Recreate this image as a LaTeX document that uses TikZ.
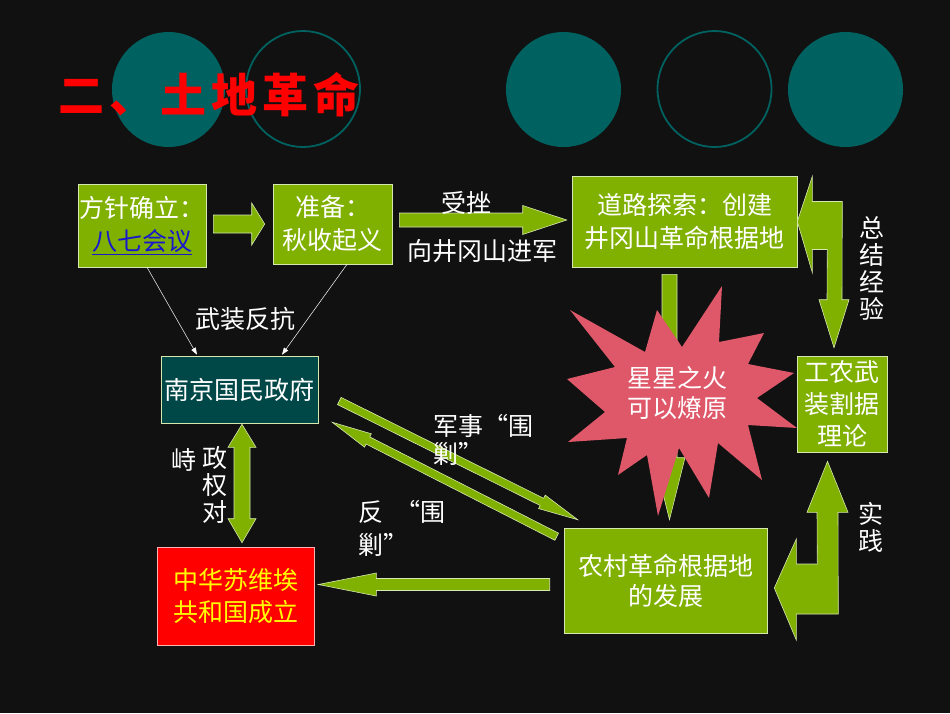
\documentclass[tikz,border=0pt]{standalone}
\usepackage{fontspec}
\setmainfont{Noto Sans CJK SC}
\usetikzlibrary{arrows.meta,calc}
\definecolor{bg}{RGB}{17,17,17}
\definecolor{tealc}{RGB}{0,98,96}
\definecolor{grn}{RGB}{128,176,0}
\definecolor{bord}{RGB}{214,232,176}
\definecolor{njc}{RGB}{0,72,72}
\definecolor{starc}{RGB}{222,88,106}
\definecolor{linkblue}{RGB}{24,24,204}
\definecolor{yel}{RGB}{255,255,0}
\definecolor{redc}{RGB}{255,0,0}
\newcommand\blkarr[5]{%
  \coordinate (hb) at ($(#2)!#5!(#1)$);
  \draw[barrow] ($(#1)!#3!90:(#2)$) -- ($(hb)!#3!90:(#2)$) -- ($(hb)!#4!90:(#2)$) -- (#2)
    -- ($(hb)!#4!-90:(#2)$) -- ($(hb)!#3!-90:(#2)$) -- ($(#1)!#3!-90:(#2)$) -- cycle;}
\begin{document}
\begin{tikzpicture}[x=1pt,y=-1pt,
  txt/.style={text=white,font=\fontsize{25}{33}\selectfont,inner sep=0pt,align=center},
  vtxt/.style={text=white,font=\fontsize{25}{27}\selectfont,inner sep=0pt,align=center},
  gbox/.style={draw=bord,line width=0.6pt,fill=grn,inner sep=0pt,align=center,text=white,font=\fontsize{25}{33}\selectfont},
  barrow/.style={draw=bord,line width=0.6pt,fill=grn},
  thinarr/.style={draw=white,line width=0.5pt,-{Triangle[length=7pt,width=5pt]}}
]
\fill[bg] (0,0) rectangle (950,713);
\useasboundingbox (0,0) rectangle (950,713);
% circles
\fill[tealc] (168.5,89.5) ellipse [x radius=56.5, y radius=57.5];
\draw[tealc,line width=1.8pt] (303,89) ellipse [x radius=57, y radius=58];
\fill[tealc] (563.5,89.5) ellipse [x radius=57.5, y radius=57.5];
\draw[tealc,line width=1.8pt] (714.5,89) ellipse [x radius=57, y radius=58];
\fill[tealc] (845.5,89.5) ellipse [x radius=57.5, y radius=57.5];
% title
\node[anchor=west,inner sep=0pt,text=redc,font=\fontsize{46}{46}\selectfont\bfseries] (title) at (58,95)
  {二\hspace{5pt}、\hspace{5pt}土\hspace{5pt}地\hspace{5pt}革\hspace{5pt}命};
% boxes
\node[gbox,minimum width=128pt,minimum height=83pt] (a) at (142,225.5) {方针确立：\\\textcolor{linkblue}{\underline{八七会议}}};
\node[gbox,minimum width=119pt,minimum height=80pt] (b) at (332.5,224) {准备：\\秋收起义};
\node[gbox,minimum width=225pt,minimum height=91pt] (c) at (684.5,221.5) {道路探索：创建\\井冈山革命根据地};
\node[gbox,minimum width=90pt,minimum height=96pt,font=\fontsize{25}{32}\selectfont] (th) at (842,404) {工农武\\装割据\\理论};
\node[gbox,minimum width=203pt,minimum height=105pt,font=\fontsize{25}{30}\selectfont] (ru) at (665.5,580.5) {农村革命根据地\\的发展};
\node[draw=bord,line width=0.6pt,fill=njc,inner sep=0pt,text=white,font=\fontsize{25}{33}\selectfont,minimum width=157pt,minimum height=67pt] (nj) at (239.5,389.5) {南京国民政府};
\node[draw=white!70!redc,line width=0.6pt,fill=redc,inner sep=0pt,align=center,text=yel,font=\fontsize{25}{32}\selectfont,minimum width=157pt,minimum height=98pt] (sv) at (235.5,596) {中华苏维埃\\共和国成立};
% block arrows
\coordinate (ab1) at ($(a.east)+(7,-1.5)$);
\coordinate (ab2) at ($(b.west)+(-8,0)$);
\blkarr{ab1}{ab2}{9pt}{21pt}{13pt}
\coordinate (bc1) at ($(b.east)+(7,-4)$);
\coordinate (bc2) at ($(c.west)+(-5,-1.5)$);
\blkarr{bc1}{bc2}{7pt}{14.5pt}{44pt}
\coordinate (cr1) at ($(c.south)+(-15,7)$);
\coordinate (cr2) at ($(ru.north)+(4,-8)$);
\blkarr{cr1}{cr2}{7.5pt}{15.5pt}{62pt}
\coordinate (rs1) at ($(ru.west)+(-14,4)$);
\coordinate (rs2) at ($(sv.east)+(4,-11.5)$);
\blkarr{rs1}{rs2}{6pt}{11.5pt}{58pt}
\coordinate (nr1) at ($(nj.east)+(21,11.5)$);
\coordinate (nr2) at ($(ru.north west)+(14,-8)$);
\blkarr{nr1}{nr2}{4pt}{7.5pt}{40pt}
\coordinate (rn1) at ($(ru.north west)+(-7,9)$);
\coordinate (rn2) at ($(nj.south east)+(14,-1)$);
\blkarr{rn1}{rn2}{4pt}{7.5pt}{40pt}
% double arrow
\coordinate (d1) at ($(nj.south)+(2.5,1)$);
\coordinate (d2) at ($(sv.north)+(6.5,-4)$);
\draw[barrow] (d1) -- ($(d1)+(14,23)$) -- ($(d1)+(8,23)$) -- ($(d2)+(8,-24)$) -- ($(d2)+(14,-24)$) -- (d2)
  -- ($(d2)+(-14,-24)$) -- ($(d2)+(-8,-24)$) -- ($(d1)+(-8,23)$) -- ($(d1)+(-14,23)$) -- cycle;
% loop arrow (summary)
\coordinate (L) at (c.east);
\coordinate (D) at ($(th.north)+(-8,-8)$);
\draw[barrow] (L) -- ($(L)+(15,-45)$) -- ($(L)+(15,-20)$) -- ($(L)+(45,-20)$) -- ($(D)+(8,-48)$) -- ($(D)+(15,-48)$)
  -- (D) -- ($(D)+(-15,-48)$) -- ($(D)+(-7,-48)$) -- ($(L)+(30,28)$) -- ($(L)+(15,28)$) -- ($(L)+(15,51)$) -- cycle;
% practice arrow
\coordinate (S) at ($(ru.east)+(7,7.5)$);
\coordinate (U) at ($(th.south)+(-14.5,9)$);
\draw[barrow] (S) -- ($(S)+(22,-49)$) -- ($(S)+(22,-24)$) -- ($(S)+(43,-24)$) -- ($(U)+(-10.5,51)$) -- ($(U)+(-20.5,51)$)
  -- (U) -- ($(U)+(20.5,51)$) -- ($(U)+(10.5,51)$) -- ($(S)+(64,26)$) -- ($(S)+(22,26)$) -- ($(S)+(22,52)$) -- cycle;
% star
\fill[starc] (722,286) -- (719,342) -- (764,333) -- (748,364) -- (794,373) -- (757,398) -- (797,428) -- (748,425)
  -- (762,480) -- (718,443) -- (709,498) -- (679,448) -- (658,516) -- (647,455) -- (618,475) -- (627,438)
  -- (568,442) -- (605,412) -- (567,379) -- (615,367) -- (570,310) -- (645,352) -- (657,310) -- (682,347) -- cycle;
\node[txt,font=\fontsize{25}{30}\selectfont] (fire) at (677,393) {星星之火\\可以燎原};
% thin arrows
\draw[thinarr] ($(a.south)+(5,0)$) -- ($(nj.north)+(-42.5,-1)$);
\draw[thinarr] ($(b.south)+(14.5,0)$) -- ($(nj.north)+(42.5,-1)$);
% labels
\node[txt] (l1) at (466,203) {受挫};
\node[txt] (l2) at (482,251) {向井冈山进军};
\node[txt] (l3) at (245.5,319) {武装反抗};
\node[vtxt] (l4) at (872,268.5) {总\\结\\经\\验};
\node[vtxt] (l5) at (871,527.5) {实\\践};
\node[vtxt] (l6) at (214.5,485) {政\\权\\对};
\node[vtxt] (l7) at (183.5,460) {峙};
\node[txt,align=left,anchor=west,font=\fontsize{25}{28}\selectfont] (l8) at (433,440) {军事“围\\剿”};
\node[txt,align=left,anchor=west,font=\fontsize{25}{33}\selectfont] (l9) at (358,528.5) {反\hspace{12pt}“围\\剿”};
\end{tikzpicture}
\end{document}
